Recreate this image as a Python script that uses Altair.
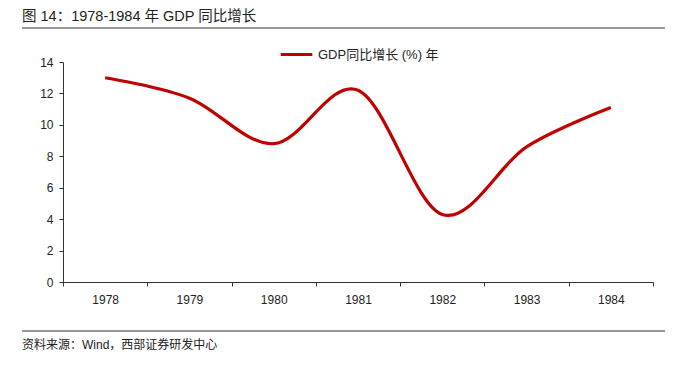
import altair as alt
import pandas as pd

years = ["1978", "1979", "1980", "1981", "1982", "1983", "1984"]
gdp_growth = [13.0, 11.7, 8.8, 12.2, 4.3, 8.6, 11.1]
series_name = "GDP同比增长 (%) 年"
title_text = "图 14：1978-1984 年 GDP 同比增长"
source_text = "资料来源：Wind，西部证券研发中心"
y_ticks = [0, 2, 4, 6, 8, 10, 12, 14]

FONT = "Liberation Sans, Noto Sans CJK SC, sans-serif"

df = pd.DataFrame({"year": years, "value": gdp_growth, "series": series_name})

line = alt.Chart(df).mark_line(
    interpolate="cardinal", tension=0, strokeWidth=3.2, color="#C00000"
).encode(
    x=alt.X("year:O", sort=years,
            scale=alt.Scale(type="band", paddingInner=0, paddingOuter=0),
            axis=alt.Axis(title=None, labelAngle=0, tickBand="extent",
                          labelFont=FONT, labelFontSize=12, labelColor="#222",
                          domainColor="#333", tickColor="#333", tickSize=4,
                          labelPadding=8)),
    y=alt.Y("value:Q", scale=alt.Scale(domain=[0, 14], nice=False),
            axis=alt.Axis(title=None, values=y_ticks, grid=False,
                          labelFont=FONT, labelFontSize=12, labelColor="#222",
                          domainColor="#333", tickColor="#333", tickSize=4,
                          labelPadding=6)),
    color=alt.Color("series:N",
                    scale=alt.Scale(range=["#C00000"]),
                    legend=alt.Legend(title=None, orient="none", legendX=216, legendY=-25,
                                      symbolType="stroke", symbolSize=1000,
                                      symbolStrokeWidth=3.2, labelFont=FONT,
                                      labelFontSize=13, labelColor="#222",
                                      labelOffset=4))
)

deco = pd.DataFrame({"t": [title_text]})
title = alt.Chart(deco).mark_text(
    align="left", baseline="top", font=FONT, fontSize=14.5, color="#222"
).encode(x=alt.value(-41), y=alt.value(-52), text="t:N")

src = alt.Chart(pd.DataFrame({"t": [source_text]})).mark_text(
    align="left", baseline="middle", font=FONT, fontSize=12, color="#222"
).encode(x=alt.value(-41), y=alt.value(283), text="t:N")

rule_top = alt.Chart(deco).mark_rule(color="#999", strokeWidth=2).encode(
    x=alt.value(-41), x2=alt.value(604), y=alt.value(-34))
rule_bot = alt.Chart(deco).mark_rule(color="#999", strokeWidth=2).encode(
    x=alt.value(-41), x2=alt.value(604), y=alt.value(269))

chart = alt.layer(line, title, src, rule_top, rule_bot).properties(
    width=590, height=220,
    padding={"left": 55, "top": 54, "right": 12, "bottom": 70},
    autosize=alt.AutoSizeParams(type="none"),
).configure_view(stroke=None)

chart.save("out.html", embed_options={"renderer": "svg", "actions": False})
